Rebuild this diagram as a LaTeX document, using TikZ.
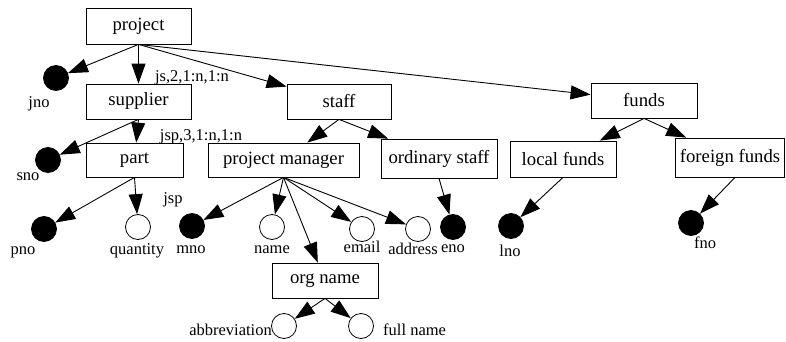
\documentclass[tikz,border=0pt]{standalone}
\usepackage{fontspec}
\setmainfont{Liberation Serif}
\usetikzlibrary{arrows.meta}
\begin{document}
\begin{tikzpicture}[x=1pt,y=-1pt,
  entity/.style={draw,line width=0.8pt,inner sep=1pt,minimum height=35pt,
    font=\fontsize{18.7}{20}\selectfont},
  keyattr/.style={circle,fill=black,draw,line width=0.8pt,minimum size=25pt,inner sep=0pt},
  attr/.style={circle,draw,line width=0.8pt,minimum size=25pt,inner sep=0pt},
  lbl/.style={inner sep=0pt,anchor=base,font=\fontsize{16.5}{18}\selectfont},
  link/.style={line width=0.9pt,-{Triangle[length=20pt,width=14pt]}}]
\useasboundingbox (0,0) rectangle (786,342);

% entity boxes
\node[entity,minimum width=105pt,minimum height=36pt] (project) at (138.5,26) {project};
\node[entity,minimum width=105pt] (supplier) at (138.5,101.5) {supplier};
\node[entity,minimum width=104pt] (staff) at (339,101.5) {staff};
\node[entity,minimum width=106pt] (funds) at (644,100.5) {funds};
\node[entity,minimum width=97pt,minimum height=34pt] (part) at (134.5,160) {part};
\node[entity,minimum width=151pt,minimum height=34pt] (pm) at (283.5,160) {project manager};
\node[entity,minimum width=116pt,minimum height=39pt] (os) at (439,158.5) {ordinary staff};
\node[entity,minimum width=106pt,minimum height=36pt] (lf) at (563,159) {local funds};
\node[entity,minimum width=109pt,minimum height=39pt] (ff) at (730,157.5) {foreign funds};
\node[entity,minimum width=106pt] (org) at (325,280.5) {org name};

% attributes
\node[keyattr] (jno) at (56,78) {};
\node[keyattr] (sno) at (48,160) {};
\node[keyattr] (pno) at (44,229) {};
\node[attr] (quantity) at (138,227) {};
\node[keyattr] (mno) at (192,226) {};
\node[attr] (name) at (272,227) {};
\node[attr] (email) at (362,229) {};
\node[attr] (address) at (418,229) {};
\node[keyattr] (eno) at (453,227) {};
\node[keyattr] (lno) at (511,226) {};
\node[keyattr] (fno) at (691,223) {};
\node[attr] (abbr) at (284,326) {};
\node[attr] (full) at (361,326) {};

% attribute labels
\node[lbl] (tjno) at (39,108) {jno};
\node[lbl] (tsno) at (28,180) {sno};
\node[lbl] (tpno) at (23,254) {pno};
\node[lbl] (tquantity) at (137,254) {quantity};
\node[lbl] (tmno) at (191,253) {mno};
\node[lbl] (tname) at (272,253) {name};
\node[lbl] (temail) at (362,252) {email};
\node[lbl] (taddress) at (413,254) {address};
\node[lbl] (teno) at (453,252) {eno};
\node[lbl] (tlno) at (510,256) {lno};
\node[lbl] (tfno) at (705,248) {fno};
\node[lbl,anchor=base east] (tabbr) at (272,335) {abbreviation};
\node[lbl,anchor=base west] (tfull) at (383,335) {full name};

% relationship labels
\node[lbl] (js) at (192,82) {js,2,1:n,1:n};
\node[lbl] (jspl) at (201,140) {jsp,3,1:n,1:n};
\node[lbl] (jsp) at (173,203) {jsp};

% connectors
\draw[link] (project.south) -- (jno);
\draw[link] (project.south) -- (supplier);
\draw[link] (project.south) -- (staff);
\draw[link] (project.south) -- (funds);
\draw[link] (supplier.south) -- (sno);
\draw[link] (supplier.south) -- (part);
\draw[link] (part.south) -- (pno);
\draw[link] (part.south) -- (quantity);
\draw[link] (staff.south) -- (pm);
\draw[link] (staff.south) -- (os);
\draw[link] (pm.south) -- (mno);
\draw[link] (pm.south) -- (name);
\draw[link] (pm.south) -- (email);
\draw[link] (pm.south) -- (address);
\draw[link] (pm.south) -- (org);
\draw[link] (os.south) -- (eno);
\draw[link] (funds.south) -- (lf);
\draw[link] (funds.south) -- (ff);
\draw[link] (lf.south) -- (lno);
\draw[link] ([xshift=5pt]ff.south) -- (fno);
\draw[link] (org.south) -- (abbr);
\draw[link] (org.south) -- (full);
\end{tikzpicture}
\end{document}
